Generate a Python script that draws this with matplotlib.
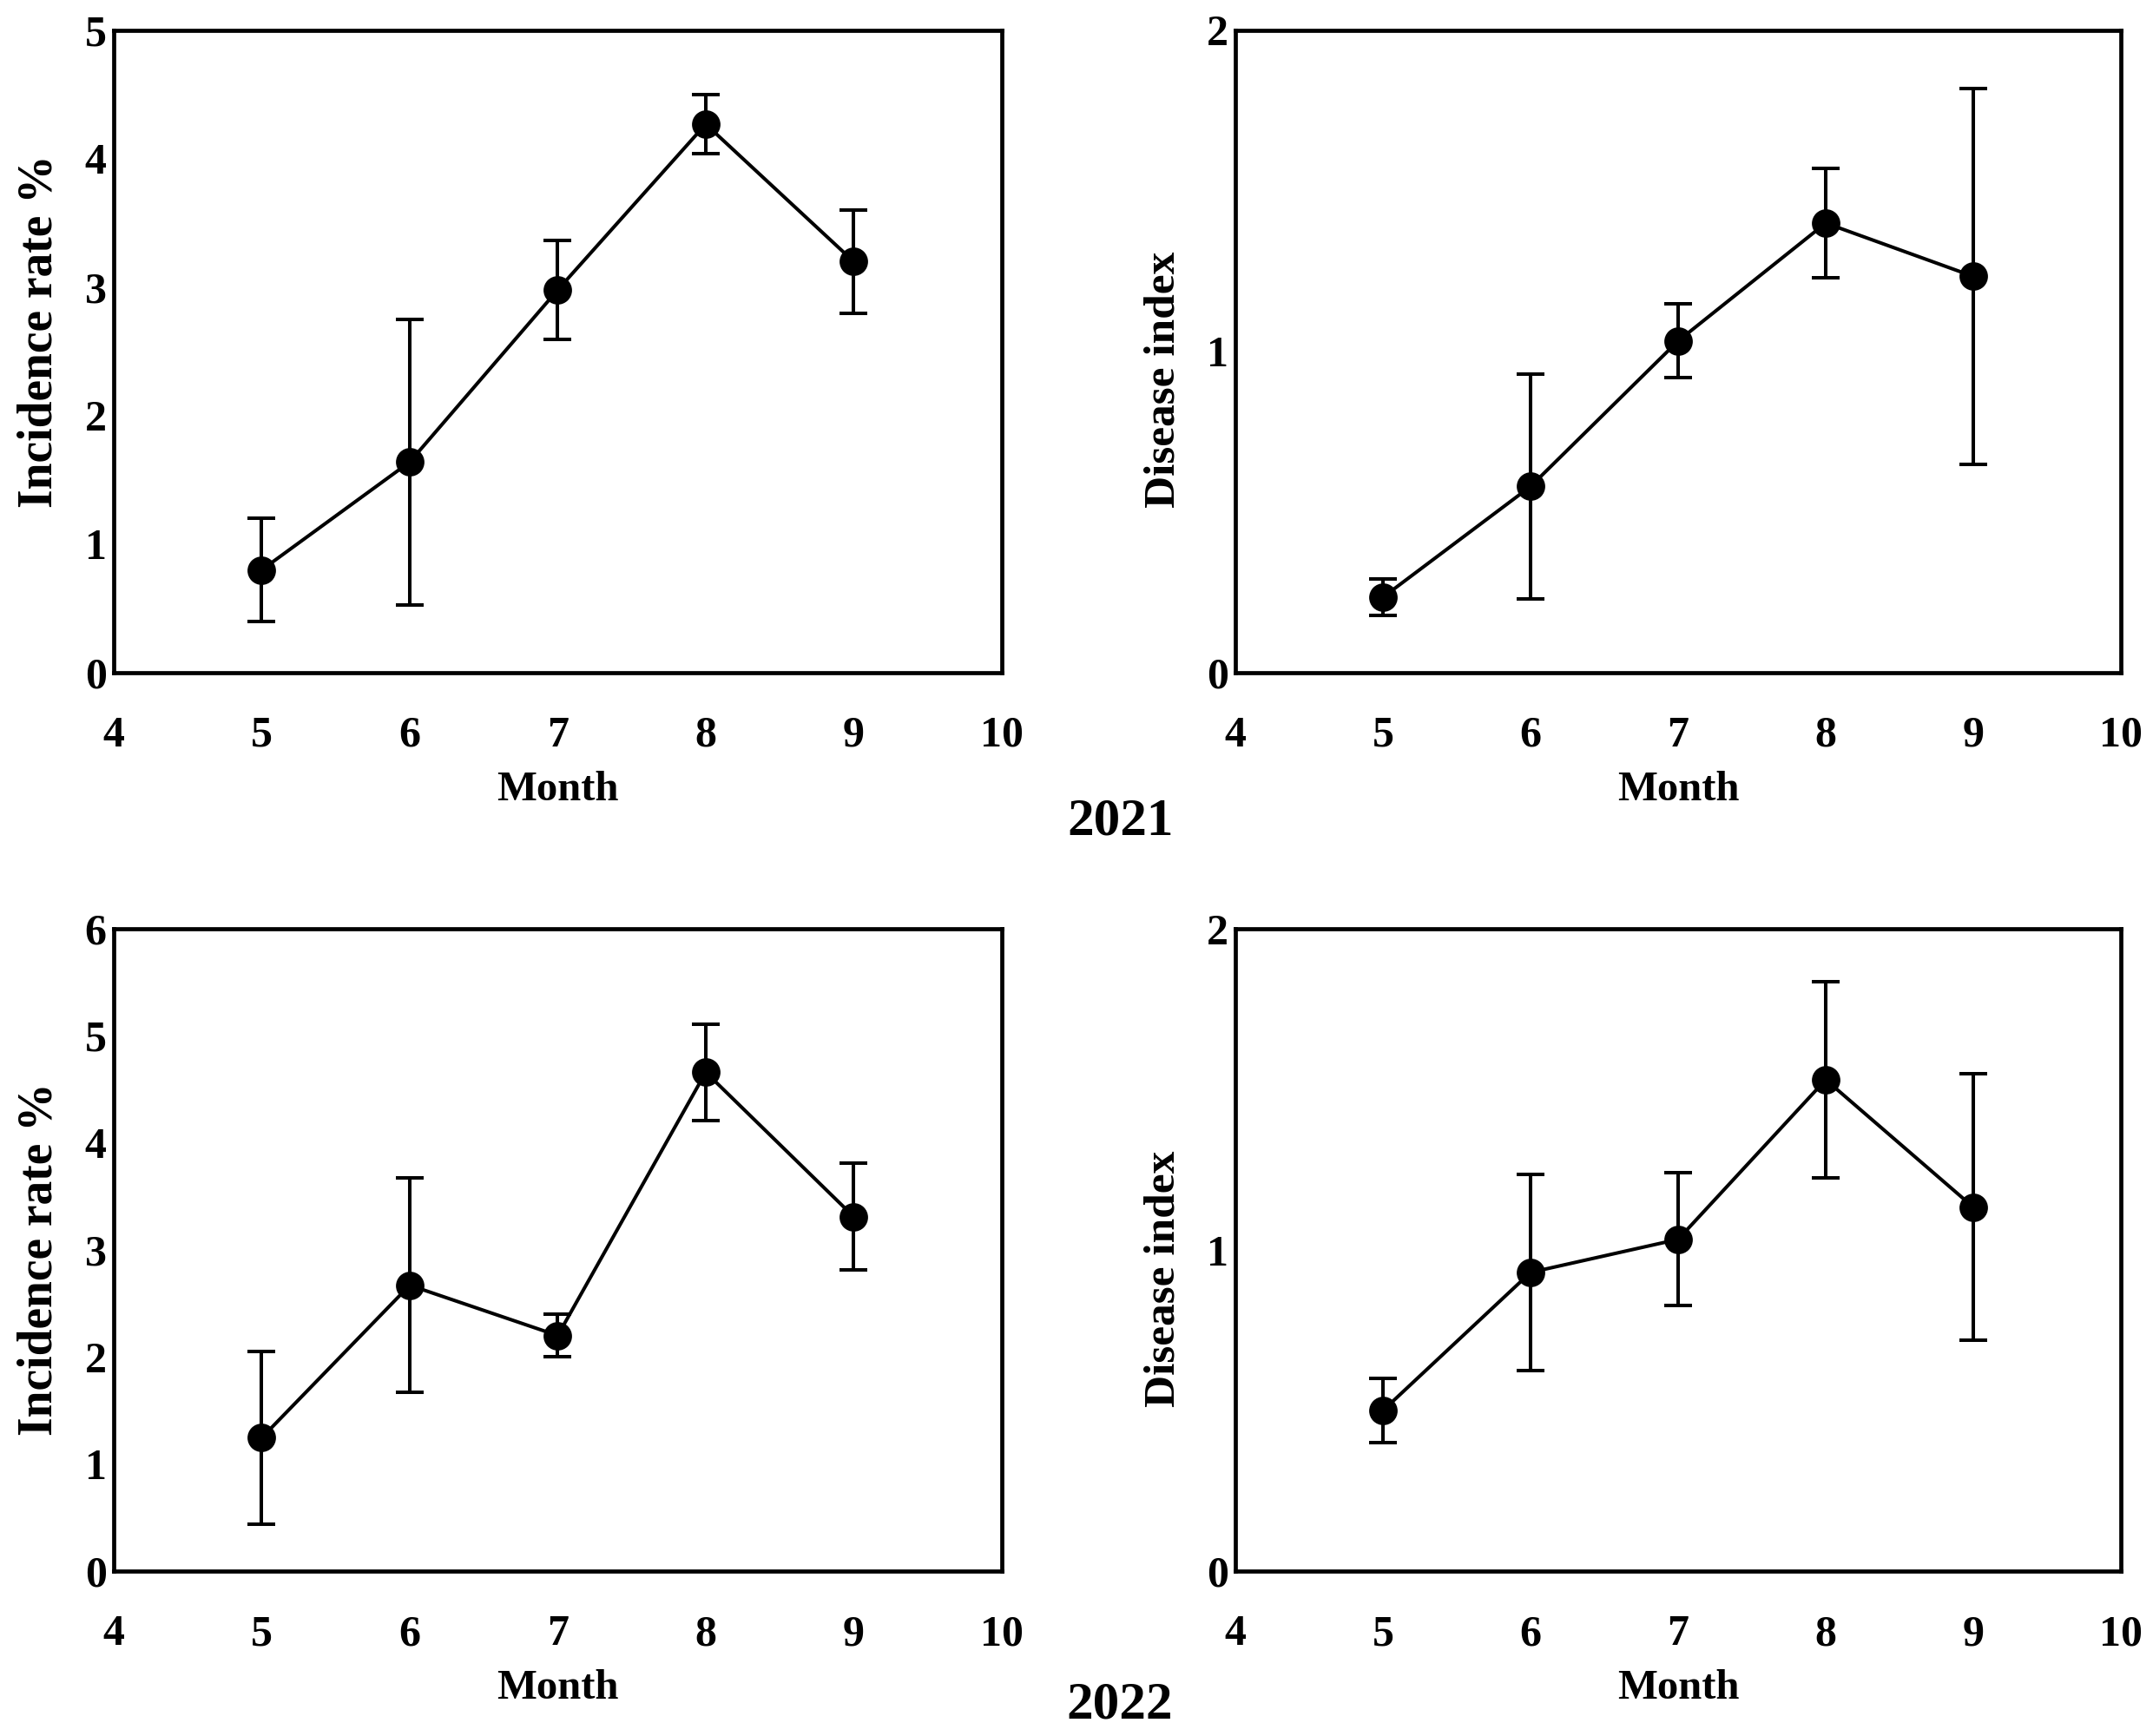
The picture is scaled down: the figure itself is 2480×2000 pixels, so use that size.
import matplotlib
matplotlib.use('Agg')
import matplotlib.pyplot as plt
import numpy as np

params = {'font.family': 'Liberation Serif',
          'font.weight': 'bold',
          'axes.labelweight': 'bold',
          'axes.linewidth': 1.7}
plt.rcParams.update(params)

months = [5, 6, 7, 8, 9]
month_ticks = [4, 5, 6, 7, 8, 9, 10]

# 2021
incidence_2021 = [0.80, 1.64, 2.98, 4.27, 3.20]
incidence_2021_err = [0.40, 1.11, 0.385, 0.23, 0.40]
index_2021 = [0.235, 0.58, 1.033, 1.40, 1.234]
index_2021_err = [0.057, 0.35, 0.115, 0.17, 0.584]

# 2022
incidence_2022 = [1.245, 2.67, 2.20, 4.66, 3.31]
incidence_2022_err = [0.81, 1.00, 0.20, 0.45, 0.50]
index_2022 = [0.50, 0.93, 1.033, 1.53, 1.133]
index_2022_err = [0.10, 0.305, 0.207, 0.305, 0.415]

fig = plt.figure(figsize=(12.4, 10), dpi=200)

# rect, values, errors, ylabel, label size, label y pos, ymax, yticks
panels = [
    ([0.0528, 0.6125, 0.4125, 0.37], incidence_2021, incidence_2021_err, 'Incidence rate %', 20, 0.531, 5, range(0, 6)),
    ([0.5738, 0.6125, 0.4113, 0.37], index_2021, index_2021_err, 'Disease index', 18.5, 0.457, 2, range(0, 3)),
    ([0.0528, 0.095, 0.4125, 0.37], incidence_2022, incidence_2022_err, 'Incidence rate %', 20, 0.485, 6, range(0, 7)),
    ([0.5738, 0.095, 0.4113, 0.37], index_2022, index_2022_err, 'Disease index', 18.5, 0.455, 2, range(0, 3)),
]

for rect, vals, errs, ylab, ysize, ypos, ymax, yticks in panels:
    ax = fig.add_axes(rect)
    ax.errorbar(months, vals, yerr=errs, color='black', linewidth=1.45,
                elinewidth=1.45, capsize=5.6, capthick=1.45,
                marker='o', markersize=10.8)
    ax.set_xlim(4, 10)
    ax.set_ylim(0, ymax)
    ax.set_xticks(month_ticks)
    ax.set_yticks(list(yticks))
    ax.tick_params(axis='both', length=0, labelsize=18)
    ax.tick_params(axis='x', pad=18)
    ax.tick_params(axis='y', pad=3)
    ax.set_xlabel('Month', fontsize=17.5, labelpad=6)
    ax.set_ylabel(ylab, fontsize=ysize, labelpad=9.5)
    ax.yaxis.label.set_y(ypos)

fig.text(0.5202, 0.527, '2021', fontsize=22, fontweight='bold', ha='center', va='center')
fig.text(0.5202, 0.0175, '2022', fontsize=22, fontweight='bold', ha='center', va='center')

plt.savefig('out.png', dpi=200)
